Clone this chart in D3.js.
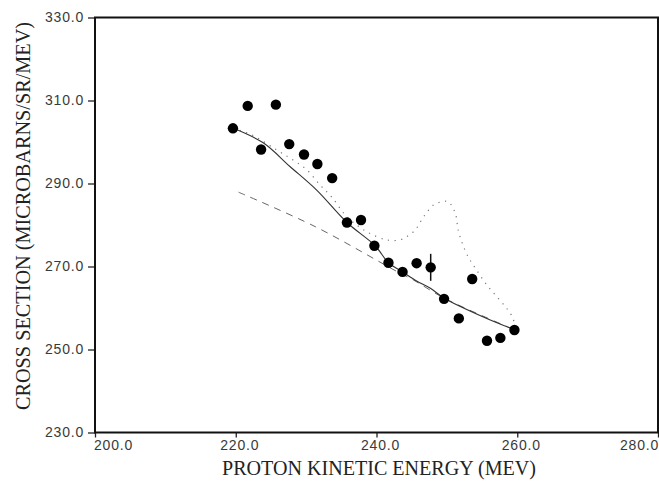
<!DOCTYPE html>
<meta charset="utf-8">
<head>
    <script src="https://d3js.org/d3.v7.min.js"></script>
    <style>
    body { margin: 0; background: white; }
    .tick text {
        font-family: "Liberation Sans", Arial, sans-serif;
        font-size: 14px;
        letter-spacing: 0.8px;
        fill: #3a3a3a;
    }
    .tick line { stroke: #222; stroke-width: 1.3px; }
    .title {
        font-family: "Liberation Serif", "Times New Roman", serif;
        font-size: 21px;
        fill: #222;
    }
    </style>
</head>
<body>
<svg id="chart"></svg>
<script>
// measured points (energy in MeV, cross section in microbarns/sr/MeV)
var energy = [219.6, 221.7, 223.6, 225.7, 227.6, 229.7, 231.6, 233.7, 235.8, 237.8, 239.7,
              241.7, 243.7, 245.7, 247.7, 249.6, 251.7, 253.6, 255.7, 257.6, 259.6];
var xsec = [303.3, 308.7, 298.2, 309.0, 299.5, 297.0, 294.7, 291.3, 280.6, 281.2, 275.0,
            270.9, 268.7, 270.8, 269.8, 262.2, 257.5, 267.0, 252.1, 252.8, 254.7];
// only one point carries a visible error bar
var errIndex = 14, errSize = 3.25;

// solid fit curve
var solidE = [219.65, 223.9, 227.7, 231.5, 235.8, 239.8, 241.7, 243.7, 245.7, 247.6, 249.7, 255.1, 259.7];
var solidS = [303.3, 299.8, 294.1, 288.4, 280.6, 275.0, 270.9, 268.7, 266.5, 264.8, 262.3, 257.9, 254.7];

// dashed curve
var dashE = [220.4, 231.3, 242.9, 245.2, 249.7, 259.7];
var dashS = [287.9, 279.6, 268.8, 266.8, 262.3, 254.7];

// dotted curve with bump near 250 MeV
var dotE = [219.65, 222.3, 225.8, 228.1, 230.1, 232.0, 233.6, 235.8, 238.6, 241.5, 243.3, 244.3,
            245.5, 246.7, 248.1, 249.3, 250.2, 251.2, 251.6, 252.1, 253.0, 254.2, 255.7, 257.1,
            258.5, 259.4, 259.7];
var dotS = [303.3, 301.7, 298.1, 295.7, 293.3, 289.6, 286.8, 282.0, 278.4, 276.4, 276.4, 277.2,
            278.8, 282.0, 284.8, 285.6, 285.6, 282.8, 278.8, 276.0, 272.4, 269.2, 265.5, 262.7,
            259.9, 257.5, 254.7];

var xTicks = [200, 220, 240, 260, 280];
var yTicks = [230, 250, 270, 290, 310, 330];

var W = 659, H = 483;
var plotLeft = 95, plotRight = 658, plotTop = 17.5, plotBottom = 432.5;

var svg = d3.select("#chart").attr("width", W).attr("height", H);

var x = d3.scaleLinear().domain([200, 280]).range([plotLeft, plotRight]);
var y = d3.scaleLinear().domain([230, 330]).range([plotBottom, plotTop]);

function pairs(a, b) { return a.map(function(d, i) { return [d, b[i]]; }); }

var line = d3.line()
    .x(function(d) { return x(d[0]); })
    .y(function(d) { return y(d[1]); })
    .curve(d3.curveCatmullRom);

// y axis
var yAxis = svg.append("g")
    .attr("transform", "translate(" + plotLeft + ",0)")
    .call(d3.axisLeft(y).tickValues(yTicks).tickSize(7).tickPadding(4).tickFormat(d3.format(".1f")));
yAxis.select(".domain").remove();

// x axis (end labels pulled inside the page)
var xAxis = svg.append("g")
    .attr("transform", "translate(0," + plotBottom + ")")
    .call(d3.axisBottom(x).tickValues(xTicks).tickSize(5).tickPadding(3).tickFormat(d3.format(".1f")));
xAxis.select(".domain").remove();
xAxis.selectAll(".tick text")
    .attr("text-anchor", function(d) { return d == 200 ? "start" : (d == 280 ? "end" : "middle"); })
    .attr("x", function(d) { return d == 200 ? -1.5 : (d == 280 ? 0.5 : 3.5); });

// frame
svg.append("rect")
    .attr("x", plotLeft).attr("y", plotTop)
    .attr("width", plotRight - plotLeft).attr("height", plotBottom - plotTop)
    .attr("fill", "none")
    .attr("stroke", "#111")
    .attr("stroke-width", 2);

// curves
svg.append("path")
    .datum(pairs(dashE, dashS))
    .attr("fill", "none")
    .attr("stroke", "#666")
    .attr("stroke-width", 1)
    .attr("stroke-dasharray", "7,6")
    .attr("d", line);

svg.append("path")
    .datum(pairs(dotE, dotS))
    .attr("fill", "none")
    .attr("stroke", "#777")
    .attr("stroke-width", 1.2)
    .attr("stroke-dasharray", "1.2,5.5")
    .attr("d", line);

svg.append("path")
    .datum(pairs(solidE, solidS))
    .attr("fill", "none")
    .attr("stroke", "#333")
    .attr("stroke-width", 1.1)
    .attr("d", line);

// error bar
svg.append("line")
    .attr("x1", x(energy[errIndex])).attr("x2", x(energy[errIndex]))
    .attr("y1", y(xsec[errIndex] - errSize)).attr("y2", y(xsec[errIndex] + errSize))
    .attr("stroke", "#111")
    .attr("stroke-width", 1.5);

// data points
svg.selectAll(".pt")
    .data(pairs(energy, xsec))
    .enter().append("circle")
    .attr("class", "pt")
    .attr("cx", function(d) { return x(d[0]); })
    .attr("cy", function(d) { return y(d[1]); })
    .attr("r", 5.2)
    .attr("fill", "#000");

// axis titles
svg.append("text")
    .attr("class", "title")
    .attr("x", 379)
    .attr("y", 475)
    .attr("text-anchor", "middle")
    .attr("textLength", 314)
    .attr("lengthAdjust", "spacingAndGlyphs")
    .text("PROTON KINETIC ENERGY (MEV)");

svg.append("text")
    .attr("class", "title")
    .attr("transform", "translate(30,216) rotate(-90)")
    .attr("text-anchor", "middle")
    .attr("textLength", 388)
    .attr("lengthAdjust", "spacingAndGlyphs")
    .text("CROSS SECTION (MICROBARNS/SR/MEV)");
</script>
</body>
